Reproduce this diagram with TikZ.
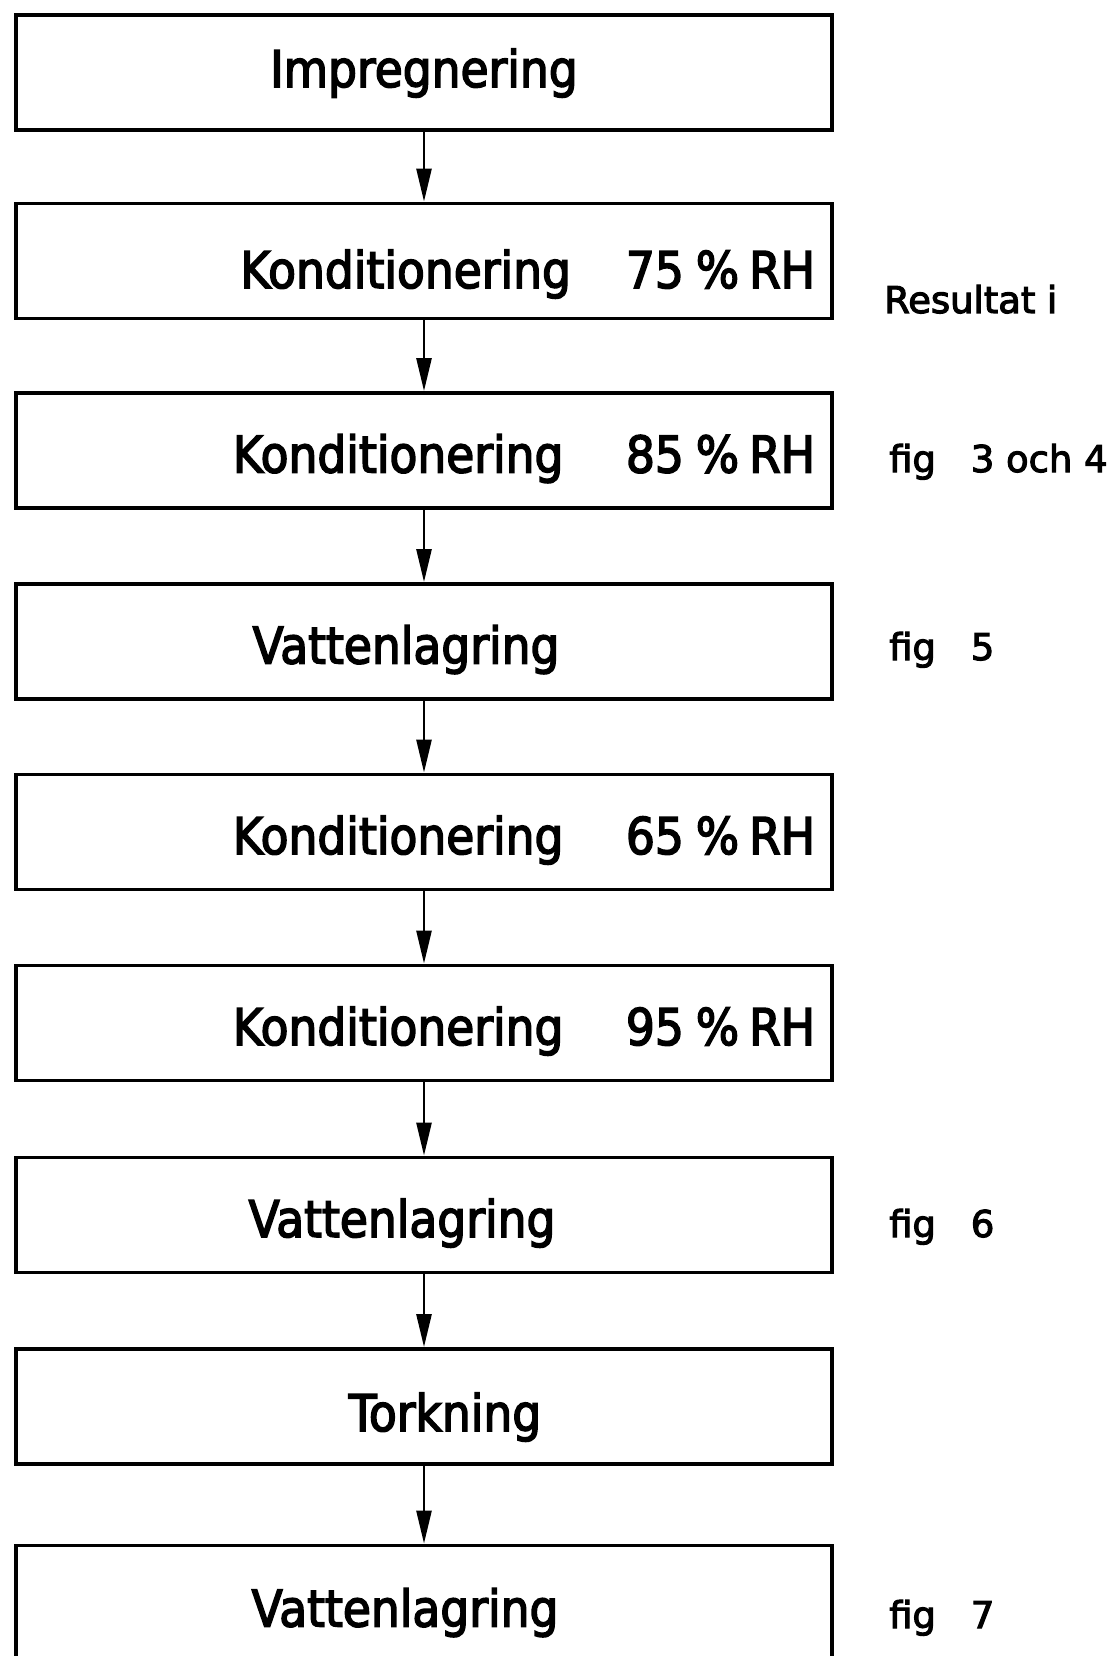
\documentclass[tikz,border=0pt]{standalone}
\usepackage{fontspec}
\setmainfont{DejaVu Sans}[FakeStretch=0.9,FakeBold=3]
\newfontfamily\figfont{DejaVu Sans}[FakeBold=3]
\usetikzlibrary{arrows.meta, positioning}
\tikzset{stage/.style={draw,line width=2.2pt,minimum width=16.32cm,minimum height=2.3cm,
                       inner sep=0pt,text height=0.88cm,text depth=0pt,
                       font=\fontsize{28.8}{34}\selectfont},
         rhstage/.style={stage,text width=15.64cm,align=right},
         figlabel/.style={anchor=base west,font=\figfont\fontsize{21}{25}\selectfont}}
\newcommand\rhval[1]{#1\hspace{0.24cm}\%\hspace{0.2cm}RH}

\begin{document}
\begin{tikzpicture}[>={Triangle[length=6.6mm,width=3mm]}]
        \useasboundingbox (0,0) rectangle (22.32,-33.12);

        \node[stage,text height=0.58cm](imp)at(8.48,-1.45){Impregnering};
        \node[rhstage,text height=1.08cm](k75)at(8.48,-5.22){Konditionering\hspace{1.1cm}\rhval{75}};
        \node[rhstage](k85)at(8.48,-9.01){Konditionering\hspace{1.25cm}\rhval{85}};
        \node[stage](vat1)at(8.48,-12.83){\hspace*{-0.72cm}Vattenlagring};
        \node[rhstage](k65)at(8.48,-16.64){Konditionering\hspace{1.25cm}\rhval{65}};
        \node[rhstage](k95)at(8.48,-20.46){Konditionering\hspace{1.25cm}\rhval{95}};
        \node[stage](vat2)at(8.48,-24.30){\hspace*{-0.88cm}Vattenlagring};
        \node[stage,text height=0.98cm](tork)at(8.48,-28.13){\hspace*{0.84cm}Torkning};
        \node[stage,text height=0.94cm](vat3)at(8.48,-32.06){\hspace*{-0.76cm}Vattenlagring};

        \node[figlabel](res)at(17.56,-6.26){Resultat i};
        \node[figlabel](f34)at(17.66,-9.44){fig\hspace{0.7cm}3 och 4};
        \node[figlabel](f5)at(17.66,-13.2){fig\hspace{0.7cm}5};
        \node[figlabel](f6)at(17.66,-24.74){fig\hspace{0.7cm}6};
        \node[figlabel](f7)at(17.66,-32.56){fig\hspace{0.7cm}7};

        \draw[->,line width=1.5pt](imp)--(k75);
        \draw[->,line width=1.5pt](k75)--(k85);
        \draw[->,line width=1.5pt](k85)--(vat1);
        \draw[->,line width=1.5pt](vat1)--(k65);
        \draw[->,line width=1.5pt](k65)--(k95);
        \draw[->,line width=1.5pt](k95)--(vat2);
        \draw[->,line width=1.5pt](vat2)--(tork);
        \draw[->,line width=1.5pt](tork)--(vat3);
    \end{tikzpicture}
\end{document}
